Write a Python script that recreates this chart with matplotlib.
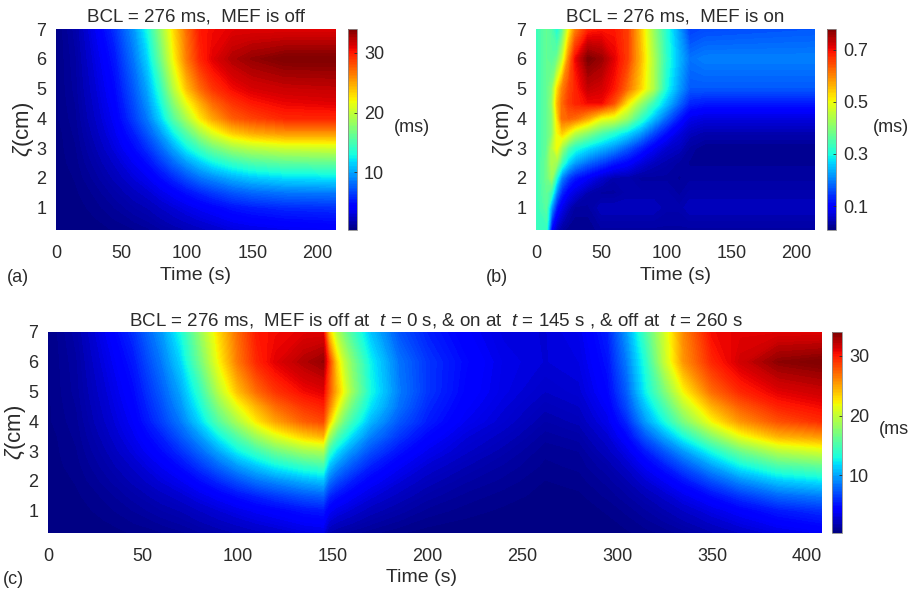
#three heat maps of delay against time and position

import numpy as np
import matplotlib
matplotlib.use('Agg')
import matplotlib.pyplot as plt

plt.rcParams['font.family']=['Liberation Sans','DejaVu Sans']
plt.rcParams['mathtext.fontset']='custom'
plt.rcParams['mathtext.it']='Liberation Sans:italic'
plt.rcParams['mathtext.rm']='Liberation Sans'

DARK='#2b2b2b'

#positions along the tissue, same rows in all panels
zeta=[0.25,1,1.5,2,2.5,3,3.5,4,4.5,5,6,7]

#panel a, MEF off
time_a=[0,15,30,45,60,70,80,90,100,110,120,135,150,175,214]
delay_a=[
    [.3,.3,.4,.6,.8,1,1.3,1.6,1.9,2.2,2.5,3,3.3,3.6,3.9],
    [.3,.4,.7,1.1,1.6,1.9,2.4,2.9,3.4,3.9,4.3,5,5.4,5.8,6],
    [.3,.5,.9,1.5,2.2,2.7,3.4,4.1,4.9,5.6,6.3,7.2,7.8,8.3,8.5],
    [.3,.6,1.2,2,3,3.7,4.7,5.8,7,8.2,9,10.2,11,11.7,12],
    [.4,.7,1.5,2.5,3.8,4.8,6.2,7.8,9.5,11,12.5,14,15,15.7,16],
    [.4,.8,1.8,3.1,4.7,6,7.8,10,12.5,14.5,16.5,18.5,19.5,20.3,20.5],
    [.4,.9,2.1,3.6,5.5,7.3,9.5,12.5,15.5,18.5,21,23.5,24.7,25.5,25.5],
    [.5,1,2.4,4,6.5,8.5,11.5,15.5,19,22.5,25,27.5,28.5,29.5,29.5],
    [.5,1.1,2.6,4.3,7,9.3,12.8,17.5,21.5,24.5,27,29,30,30.7,31],
    [.5,1.2,2.8,4.6,7.5,10,14,19.5,24,27,29,30.5,31.3,31.8,32],
    [.5,1.3,3.2,5.2,8.5,11.5,16.5,22,26.5,29.5,31,32.5,33.3,34,34],
    [.5,1.5,3.7,6,9.5,13,18,23,27,30,30.5,31,31,31,31],
]

#panel b, MEF on
time_b=[0,8,12,16,20,25,30,40,50,60,70,80,90,100,110,118,130,214]
delay_b=[
    [.33,.33,.10,.05,.03,.02,.02,.02,.03,.03,.03,.03,.03,.03,.03,.03,.03,.03],
    [.33,.36,.22,.12,.08,.05,.03,.03,.05,.05,.05,.05,.05,.04,.04,.05,.05,.05],
    [.33,.37,.33,.20,.13,.09,.07,.04,.03,.03,.04,.04,.04,.04,.03,.04,.04,.04],
    [.33,.38,.42,.30,.20,.15,.12,.09,.06,.04,.04,.03,.03,.03,.025,.03,.03,.03],
    [.33,.38,.44,.42,.33,.26,.22,.18,.15,.12,.10,.07,.05,.04,.03,.025,.025,.025],
    [.33,.37,.44,.50,.42,.35,.31,.27,.24,.21,.17,.13,.09,.06,.05,.03,.02,.02],
    [.33,.37,.40,.50,.54,.50,.45,.40,.35,.31,.27,.22,.16,.11,.07,.05,.04,.04],
    [.33,.37,.40,.52,.62,.63,.62,.57,.50,.48,.42,.33,.25,.18,.12,.08,.07,.07],
    [.33,.37,.41,.55,.62,.66,.68,.70,.70,.64,.52,.42,.33,.25,.18,.13,.12,.12],
    [.33,.37,.40,.52,.60,.65,.68,.73,.72,.69,.62,.54,.44,.30,.22,.17,.17,.17],
    [.33,.37,.36,.38,.46,.60,.70,.78,.76,.71,.66,.56,.44,.32,.24,.19,.20,.20],
    [.33,.37,.35,.30,.36,.50,.60,.68,.69,.69,.66,.55,.42,.31,.22,.15,.16,.17],
]

#panel c, MEF switched off, on and off again
time_c=[0,15,30,45,60,70,80,90,100,110,120,135,145,148,152,156,160,170,185,200,220,240,262,
        280,295,305,315,325,335,350,365,385,408]
delay_c=[
    [.3,.3,.4,.6,.8,1,1.3,1.6,1.9,2.2,2.5,3,3.2,1.8,1.5,1.3,1.2,.9,.6,.4,.3,.3,.3,
     .3,.4,.5,.7,.9,1.2,1.8,2.4,3.2,3.8],
    [.3,.4,.7,1.1,1.6,1.9,2.4,2.9,3.4,3.9,4.3,5,5.2,4,3.4,3.1,2.8,2.1,1.5,1,.7,.5,.35,
     .4,.6,.9,1.3,1.8,2.4,3.3,4.2,5.3,6],
    [.3,.5,.9,1.5,2.2,2.7,3.4,4.1,4.9,5.6,6.3,7.2,7.6,5.8,5,4.5,4,3.1,2.2,1.5,1,.7,.45,
     .5,.9,1.3,1.9,2.6,3.5,4.8,6.2,7.8,8.6],
    [.3,.6,1.2,2,3,3.7,4.7,5.8,7,8.2,9,10.2,10.8,8.3,7,6.2,5.5,4.2,3,2.1,1.4,1,.55,
     .7,1.2,1.8,2.8,3.8,5,7,9,11,12],
    [.4,.7,1.5,2.5,3.8,4.8,6.2,7.8,9.5,11,12.5,14,14.7,11,9.3,8.2,7.3,5.5,3.9,2.8,1.9,1.3,.75,
     .9,1.6,2.5,3.9,5.3,7,9.7,12.5,15,16],
    [.4,.8,1.8,3.1,4.7,6,7.8,10,12.5,14.5,16.5,18.5,19,14.5,12,10.5,9.3,7,5,3.6,2.5,1.7,.9,
     1.1,2.2,3.4,5.3,7.3,9.5,13,16.5,19.5,20.7],
    [.4,.9,2.1,3.6,5.5,7.3,9.5,12.5,15.5,18.5,21,23.5,24.5,19,15.5,13.5,11.8,8.7,6.2,4.5,3,2.2,1.2,
     1.5,2.8,4.5,7.3,10,13,17.5,21.5,24.5,25.5],
    [.5,1,2.4,4,6.5,8.5,11.5,15.5,19,22.5,25,27.5,28.3,24,19.5,16.5,14.5,10.5,7.3,5.4,3.7,2.7,1.6,
     2,3.5,5.7,9.6,13,17,22,25.5,28,29.3],
    [.5,1.1,2.6,4.3,7,9.3,12.8,17.5,21.5,24.5,27,29,29.7,26.5,22.5,19,16.5,12,8.2,5.8,4.1,3,2,
     2.4,4,6.8,11,15,19.5,24.5,27.5,29.7,30.5],
    [.5,1.2,2.8,4.6,7.5,10,14,19.5,24,27,29,30.5,31,28,24.5,21.5,18.5,13,8.6,6.2,4.4,3.3,2.4,
     2.8,4.5,7.5,12.5,17,22,27,29.5,31,31.7],
    [.5,1.3,3.2,5.2,8.5,11.5,16.5,22,26.5,29.5,31,32.5,33.3,29,23.5,20,17.5,12.5,8.3,6.2,4.6,3.4,2.9,
     3.2,5,8.5,13.5,20,25.5,29.5,31.5,33.5,34],
    [.5,1.5,3.7,6,9.5,13,18,23,27,30,30.5,31,31,24,19.5,17,15,11,7.2,5.5,4.1,3.1,2.9,
     3.5,5.5,9.5,15,20.5,26,30.5,31,31,31],
]

ticks_zeta=[1,2,3,4,5,6,7]
ticks_ms=[10,20,30]
ticks_on=[0.1,0.3,0.5,0.7]

W=909
H=595
fig=plt.figure(figsize=(W/100,H/100),dpi=100)


#turn pixel box of the reference into an axes
def box(x0,x1,y0,y1):
    return fig.add_axes([x0/W,1-y1/H,(x1-x0)/W,(y1-y0)/H])


#draw one panel with its colour bar
def panel(time,delay,xlim,xticks,vmin,vmax,cticks,ctext,title,xbox,cbox,ybox,tx,ty,unit_x,lab_x,lab_y,letter,letter_x,letter_y):
    ax=box(xbox[0],xbox[1],ybox[0],ybox[1])
    levels=np.linspace(vmin,vmax,129)
    cs=ax.contourf(time,zeta,delay,levels=levels,cmap='jet',vmin=vmin,vmax=vmax)
    ax.set_xlim(0,xlim)
    ax.set_ylim(0.25,7)
    ax.set_xticks(xticks)
    ax.set_yticks(ticks_zeta)
    ax.tick_params(length=0,labelsize=13,labelcolor=DARK)
    ax.tick_params(axis='x',pad=11)
    ax.tick_params(axis='y',pad=7)
    for s in ax.spines.values():
        s.set_visible(False)
    cax=box(cbox[0],cbox[1],ybox[0],ybox[1])
    cb=fig.colorbar(cs,cax=cax)
    cb.set_ticks(cticks)
    cb.set_ticklabels(ctext)
    cb.ax.tick_params(length=2,width=.6,direction='in',color=DARK,labelsize=13,labelcolor=DARK,pad=5)
    cb.outline.set_edgecolor('#8a8a8a')
    cb.outline.set_linewidth(.6)
    fig.text(tx/W,1-ty/H,title,fontsize=13.5,color=DARK,ha='center',va='center')
    fig.text(lab_x/W,1-lab_y/H,'Time (s)',fontsize=14,color=DARK,ha='center',va='center')
    fig.text((xbox[0]-32)/W,1-(ybox[0]+ybox[1])/2/H,r'$\zeta$(cm)',fontsize=16,color=DARK,rotation=90,ha='center',va='center')
    fig.text(unit_x[0]/W,1-unit_x[1]/H,unit_x[2],fontsize=13,color=DARK,ha='left',va='center')
    fig.text(letter_x/W,1-letter_y/H,letter,fontsize=13,color=DARK,ha='left',va='center')


panel(time_a,delay_a,214,[0,50,100,150,200],0.3,34,ticks_ms,['10','20','30'],
      'BCL = 276 ms,  MEF is off',(56,336),(348,357),(29,230),196,17,(394,128,'(ms)'),196,276,'(a)',7,278)
panel(time_b,delay_b,214,[0,50,100,150,200],0.008,0.78,ticks_on,['0.1','0.3','0.5','0.7'],
      'BCL = 276 ms,  MEF is on',(536,815),(827,836),(29,230),675,17,(873,128,'(ms)'),675,276,'(b)',486,278)
panel(time_c,delay_c,408,[0,50,100,150,200,250,300,350,400],0.3,34,ticks_ms,['10','20','30'],
      r'BCL = 276 ms,  MEF is off at  $\mathit{t}$ = 0 s, & on at  $\mathit{t}$ = 145 s , & off at  $\mathit{t}$ = 260 s',
      (48,822),(832,842),(332,533),436,320,(879,430,'(ms'),421,578,'(c)',3,579)

fig.savefig('out.png',dpi=100)
